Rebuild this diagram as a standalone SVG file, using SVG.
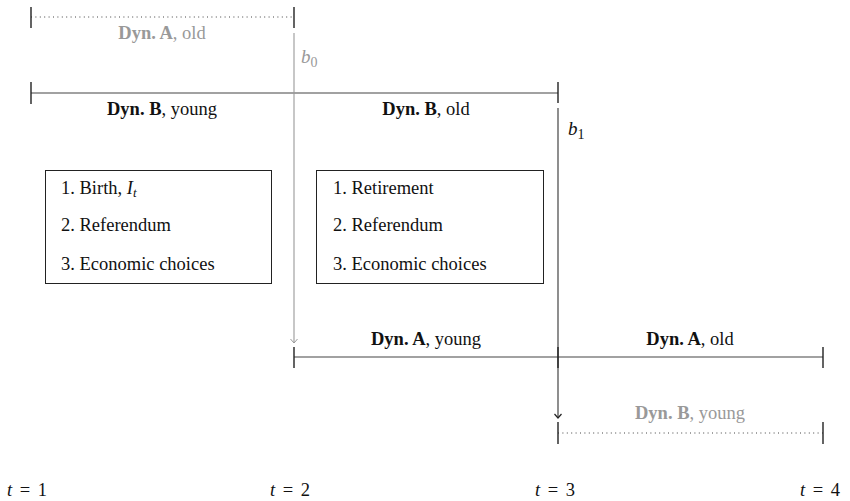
<svg xmlns="http://www.w3.org/2000/svg" width="850" height="501" viewBox="0 0 850 501">
<defs>
<style>
text{font-family:"Liberation Serif","Times New Roman",serif;font-size:18.5px;fill:#111}
.g{fill:#999}
.c{text-anchor:middle}
.b{font-weight:bold}
.i{font-style:italic}
.ln{stroke:#444;stroke-width:1.2;fill:none}
.lg{stroke:#999;stroke-width:1.1;fill:none}
.dt{stroke:#444;stroke-width:1;stroke-dasharray:1 3.4;fill:none}
.tk{stroke:#222;stroke-width:1.4}
.box{fill:#fff;stroke:#222;stroke-width:1}
.tm{word-spacing:3px}
</style>
<marker id="ag" markerWidth="10" markerHeight="10" refX="5" refY="6" orient="0" markerUnits="userSpaceOnUse" viewBox="0 0 10 10">
<path d="M1.5,2 L5,6 L8.5,2" fill="none" stroke="#999" stroke-width="1"/>
</marker>
<marker id="ab" markerWidth="10" markerHeight="10" refX="5" refY="6" orient="0" markerUnits="userSpaceOnUse" viewBox="0 0 10 10">
<path d="M1.5,2 L5,6 L8.5,2" fill="none" stroke="#222" stroke-width="1.2"/>
</marker>
</defs>
<g id="connectors">
<line class="dt" x1="31" y1="17" x2="294" y2="17"/>
<line class="tk" x1="31" y1="7" x2="31" y2="28"/>
<line class="tk" x1="294" y1="7" x2="294" y2="28"/>
<line class="ln" x1="31" y1="93" x2="558" y2="93"/>
<line class="tk" x1="31" y1="82" x2="31" y2="104"/>
<line class="tk" x1="558" y1="82" x2="558" y2="103"/>
<line class="lg" x1="294" y1="33" x2="294" y2="343" marker-end="url(#ag)"/>
<line class="ln" x1="558" y1="108" x2="558" y2="418" marker-end="url(#ab)"/>
<line class="ln" x1="294" y1="357" x2="823" y2="357"/>
<line class="tk" x1="294" y1="347" x2="294" y2="368"/>
<line class="tk" x1="558" y1="347" x2="558" y2="368"/>
<line class="tk" x1="823" y1="347" x2="823" y2="368"/>
<line class="dt" x1="558" y1="433" x2="823" y2="433"/>
<line class="tk" x1="558" y1="422" x2="558" y2="444"/>
<line class="tk" x1="823" y1="422" x2="823" y2="444"/>
</g>
<g id="labels">
<text class="c g" x="162" y="39"><tspan class="b">Dyn. A</tspan>, old</text>
<text class="g i" x="301" y="63" style="font-size:19px">b<tspan dy="4" style="font-style:normal;font-size:14px">0</tspan></text>
<text class="c" x="162" y="115"><tspan class="b">Dyn. B</tspan>, young</text>
<text class="c" x="426" y="115"><tspan class="b">Dyn. B</tspan>, old</text>
<text class="i" x="568" y="135" style="font-size:19px">b<tspan dy="4" style="font-style:normal;font-size:14px">1</tspan></text>
<text class="c" x="426" y="345"><tspan class="b">Dyn. A</tspan>, young</text>
<text class="c" x="690" y="345"><tspan class="b">Dyn. A</tspan>, old</text>
<text class="c g" x="690" y="419"><tspan class="b">Dyn. B</tspan>, young</text>
</g>
<g id="box1">
<rect class="box" x="45.5" y="170.5" width="226" height="113"/>
<text x="61" y="194">1. Birth, <tspan class="i">I</tspan><tspan class="i" dy="3" style="font-size:13px">t</tspan></text>
<text x="61" y="231">2. Referendum</text>
<text x="61" y="270">3. Economic choices</text>
</g>
<g id="box2">
<rect class="box" x="316.5" y="170.5" width="227" height="113"/>
<text x="333" y="194">1. Retirement</text>
<text x="333" y="231">2. Referendum</text>
<text x="333" y="270">3. Economic choices</text>
</g>
<g id="time">
<text class="tm" x="7" y="496"><tspan class="i">t</tspan> = 1</text>
<text class="tm" x="270" y="496"><tspan class="i">t</tspan> = 2</text>
<text class="tm" x="535" y="496"><tspan class="i">t</tspan> = 3</text>
<text class="tm" x="800" y="496"><tspan class="i">t</tspan> = 4</text>
</g>
</svg>
